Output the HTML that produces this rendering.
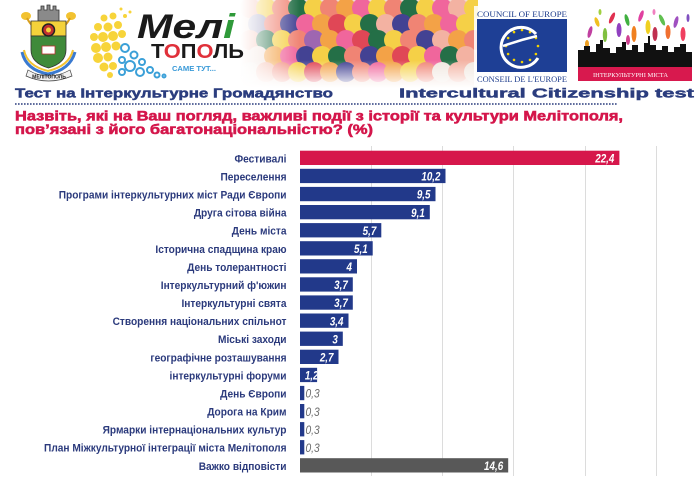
<!DOCTYPE html>
<html>
<head>
<meta charset="utf-8">
<style>
html,body{margin:0;padding:0;background:#fff;}
body{width:700px;height:485px;overflow:hidden;}
svg{display:block;}
.lbl{font-family:"Liberation Sans",sans-serif;font-weight:bold;font-size:11.4px;fill:#2b3a7c;}
.val{font-family:"Liberation Sans",sans-serif;font-weight:bold;font-style:italic;font-size:12px;fill:#fff;}
.val2{font-family:"Liberation Sans",sans-serif;font-style:italic;font-size:12px;fill:#6a6a6a;}
</style>
</head>
<body>
<svg width="700" height="485" viewBox="0 0 700 485" xmlns="http://www.w3.org/2000/svg">
<defs>
  <linearGradient id="fadeL" x1="0" x2="1" y1="0" y2="0">
    <stop offset="0" stop-color="#fff" stop-opacity="1"/>
    <stop offset="1" stop-color="#fff" stop-opacity="0"/>
  </linearGradient>
  <linearGradient id="fadeB" x1="0" x2="0" y1="0" y2="1">
    <stop offset="0" stop-color="#fff" stop-opacity="0"/>
    <stop offset="1" stop-color="#fff" stop-opacity="1"/>
  </linearGradient>
  <clipPath id="flowClip"><rect x="240" y="0" width="238" height="88"/></clipPath>
  <clipPath id="c12"><rect x="300" y="367" width="17.1" height="15"/></clipPath>
</defs>
<rect width="700" height="485" fill="#fff"/>

<!-- Flowers image -->
<g clip-path="url(#flowClip)">
  <rect x="240" y="0" width="238" height="88" fill="#f1d9cf"/>
  <g opacity="0.95">
    <circle cx="250" cy="8" r="10" fill="#f4b0a0"/><circle cx="266" cy="8" r="10" fill="#f6d040"/><circle cx="282" cy="8" r="10" fill="#f08070"/><circle cx="298" cy="8" r="10" fill="#1a6a40"/><circle cx="314" cy="8" r="10" fill="#f6d040"/><circle cx="330" cy="8" r="10" fill="#f08070"/><circle cx="346" cy="8" r="10" fill="#f4a040"/><circle cx="362" cy="8" r="10" fill="#f0609a"/><circle cx="378" cy="8" r="10" fill="#f6d040"/><circle cx="394" cy="8" r="10" fill="#f08070"/><circle cx="410" cy="8" r="10" fill="#1a6a40"/><circle cx="426" cy="8" r="10" fill="#f6d040"/><circle cx="442" cy="8" r="10" fill="#f0609a"/><circle cx="458" cy="8" r="10" fill="#f4b0a0"/><circle cx="474" cy="8" r="10" fill="#f6d040"/>
    <circle cx="258" cy="24" r="10" fill="#9a9ac0"/><circle cx="274" cy="24" r="10" fill="#f08070"/><circle cx="290" cy="24" r="10" fill="#3a3a90"/><circle cx="306" cy="24" r="10" fill="#f0609a"/><circle cx="322" cy="24" r="10" fill="#f4a040"/><circle cx="338" cy="24" r="10" fill="#e04050"/><circle cx="354" cy="24" r="10" fill="#f6d040"/><circle cx="370" cy="24" r="10" fill="#1a6a40"/><circle cx="386" cy="24" r="10" fill="#f4b0a0"/><circle cx="402" cy="24" r="10" fill="#3a3a90"/><circle cx="418" cy="24" r="10" fill="#f08070"/><circle cx="434" cy="24" r="10" fill="#f4a040"/><circle cx="450" cy="24" r="10" fill="#f0609a"/><circle cx="466" cy="24" r="10" fill="#f6d040"/>
    <circle cx="250" cy="40" r="10" fill="#f4b0a0"/><circle cx="266" cy="40" r="10" fill="#1a6a40"/><circle cx="282" cy="40" r="10" fill="#f6d040"/><circle cx="298" cy="40" r="10" fill="#f08070"/><circle cx="314" cy="40" r="10" fill="#9a60b0"/><circle cx="330" cy="40" r="10" fill="#f4a040"/><circle cx="346" cy="40" r="10" fill="#f0609a"/><circle cx="362" cy="40" r="10" fill="#e04050"/><circle cx="378" cy="40" r="10" fill="#1a6a40"/><circle cx="394" cy="40" r="10" fill="#f6d040"/><circle cx="410" cy="40" r="10" fill="#f08070"/><circle cx="426" cy="40" r="10" fill="#3a3a90"/><circle cx="442" cy="40" r="10" fill="#f4b0a0"/><circle cx="458" cy="40" r="10" fill="#f4a040"/><circle cx="474" cy="40" r="10" fill="#f08070"/>
    <circle cx="258" cy="56" r="10" fill="#f0e0d8"/><circle cx="274" cy="56" r="10" fill="#f4a040"/><circle cx="290" cy="56" r="10" fill="#f0609a"/><circle cx="306" cy="56" r="10" fill="#3a3a90"/><circle cx="322" cy="56" r="10" fill="#f6d040"/><circle cx="338" cy="56" r="10" fill="#1a6a40"/><circle cx="354" cy="56" r="10" fill="#f08070"/><circle cx="370" cy="56" r="10" fill="#3a3a90"/><circle cx="386" cy="56" r="10" fill="#f4a040"/><circle cx="402" cy="56" r="10" fill="#e04050"/><circle cx="418" cy="56" r="10" fill="#f6d040"/><circle cx="434" cy="56" r="10" fill="#f0609a"/><circle cx="450" cy="56" r="10" fill="#1a6a40"/><circle cx="466" cy="56" r="10" fill="#f4b0a0"/>
    <circle cx="250" cy="72" r="10" fill="#f0e8e0"/><circle cx="266" cy="72" r="10" fill="#f4b0a0"/><circle cx="282" cy="72" r="10" fill="#f08070"/><circle cx="298" cy="72" r="10" fill="#f6d040"/><circle cx="314" cy="72" r="10" fill="#e04050"/><circle cx="330" cy="72" r="10" fill="#f4a040"/><circle cx="346" cy="72" r="10" fill="#3a3a90"/><circle cx="362" cy="72" r="10" fill="#f08070"/><circle cx="378" cy="72" r="10" fill="#f0609a"/><circle cx="394" cy="72" r="10" fill="#f4a040"/><circle cx="410" cy="72" r="10" fill="#f6d040"/><circle cx="426" cy="72" r="10" fill="#f08070"/><circle cx="442" cy="72" r="10" fill="#f0e8e0"/><circle cx="458" cy="72" r="10" fill="#f4b0a0"/><circle cx="474" cy="72" r="10" fill="#f0e8e0"/>
  </g>
  <rect x="240" y="0" width="60" height="88" fill="url(#fadeL)"/>
  <rect x="240" y="60" width="238" height="28" fill="url(#fadeB)"/>
</g>

<!-- Coat of arms -->
<g>
  <ellipse cx="26" cy="16" rx="5" ry="4" fill="#f2c230"/>
  <ellipse cx="71" cy="16" rx="5" ry="4" fill="#f2c230"/>
  <path d="M27,18 Q30,24 33,26" stroke="#d8a020" stroke-width="2" fill="none"/>
  <path d="M70,18 Q67,24 64,26" stroke="#d8a020" stroke-width="2" fill="none"/>
  <path d="M38,21 V10 H41 V6 H44 V10 H47 V5 H50 V10 H53 V6 H56 V10 H59 V21 Z" fill="#8a8a8a" stroke="#333" stroke-width="0.8"/>
  <path d="M31,21 H66 V36 H31 Z" fill="#f4d23a" stroke="#333" stroke-width="0.8"/>
  <path d="M31,36 H66 V50 Q66,63 48.5,68 Q31,63 31,50 Z" fill="#3f8a3a" stroke="#333" stroke-width="0.8"/>
  <circle cx="48.5" cy="30" r="6" fill="#c03030" stroke="#222" stroke-width="1.5"/>
  <circle cx="48.5" cy="30" r="2.5" fill="#f4d23a"/>
  <rect x="42" y="46" width="13" height="8" fill="#fff" stroke="#c03030" stroke-width="0.8"/>
  <path d="M22,52 Q26,70 48,74 Q70,70 75,52" stroke="#3a7ad0" stroke-width="3" fill="none"/>
  <path d="M24,50 Q27,66 48,71 Q69,66 73,50" stroke="#f2c230" stroke-width="2" fill="none"/>
  <path d="M28,70 Q48,82 70,70 L72,76 Q48,86 26,76 Z" fill="#f2f2f2" stroke="#444" stroke-width="0.7"/>
  <text x="49" y="78.5" font-family="Liberation Sans,sans-serif" font-weight="bold" font-size="5" fill="#222" text-anchor="middle">МЕЛІТОПОЛЬ</text>
</g>

<!-- Meli logo -->
<g>
  <g fill="#f7d43a">
    <circle cx="104" cy="18" r="3.5"/><circle cx="113" cy="16" r="3.5"/><circle cx="98" cy="27" r="4"/><circle cx="108" cy="27" r="4.5"/><circle cx="118" cy="25" r="4"/>
    <circle cx="94" cy="37" r="4"/><circle cx="103" cy="37" r="5"/><circle cx="113" cy="36" r="5"/><circle cx="122" cy="34" r="4"/>
    <circle cx="96" cy="48" r="5"/><circle cx="106" cy="47" r="5"/><circle cx="116" cy="46" r="4.5"/>
    <circle cx="98" cy="58" r="5"/><circle cx="108" cy="57" r="4.5"/><circle cx="104" cy="67" r="4.5"/><circle cx="113" cy="66" r="4"/><circle cx="110" cy="75" r="3"/>
    <circle cx="125" cy="16" r="2"/><circle cx="130" cy="12" r="1.5"/><circle cx="121" cy="9" r="1.5"/>
  </g>
  <g fill="none" stroke="#3ba0d8" stroke-width="2">
    <circle cx="125" cy="48" r="4"/><circle cx="134" cy="55" r="3.5"/><circle cx="122" cy="60" r="3"/>
    <circle cx="130" cy="66" r="5"/><circle cx="142" cy="62" r="3"/><circle cx="140" cy="72" r="4"/>
    <circle cx="150" cy="70" r="3"/><circle cx="157" cy="75" r="2.5"/><circle cx="122" cy="72" r="3"/><circle cx="164" cy="76" r="1.5"/>
  </g>
  <text x="137" y="38" font-family="Liberation Sans,sans-serif" font-weight="bold" font-style="italic" font-size="34" fill="#1a1a1a" textLength="98" lengthAdjust="spacingAndGlyphs">Мел<tspan fill="#2f9a3a">і</tspan></text>
  <text x="151" y="58" font-family="Liberation Sans,sans-serif" font-weight="bold" font-size="20" fill="#1a1a1a" textLength="93" lengthAdjust="spacingAndGlyphs">Т<tspan fill="#e0303a">О</tspan>П<tspan fill="#e0303a">О</tspan>ЛЬ</text>
  <text x="172" y="71" font-family="Liberation Sans,sans-serif" font-weight="bold" font-size="7" fill="#3a9ad8" textLength="44" lengthAdjust="spacingAndGlyphs">САМЕ ТУТ...</text>
</g>

<!-- Council of Europe -->
<g>
  <rect x="474" y="6" width="97" height="80" fill="#fff" opacity="0.85"/>
  <text x="477" y="17" font-family="Liberation Serif,serif" font-size="8.5" fill="#1d3c8c" textLength="90" lengthAdjust="spacingAndGlyphs">COUNCIL OF EUROPE</text>
  <rect x="477" y="19" width="90" height="53" fill="#1e3f95"/>
  <g fill="#f3d200">
    <circle cx="522" cy="30" r="1.3"/><circle cx="530" cy="32.1" r="1.3"/><circle cx="535.9" cy="38" r="1.3"/><circle cx="538" cy="46" r="1.3"/><circle cx="535.9" cy="54" r="1.3"/><circle cx="530" cy="59.9" r="1.3"/><circle cx="522" cy="62" r="1.3"/><circle cx="514" cy="59.9" r="1.3"/><circle cx="508.1" cy="54" r="1.3"/><circle cx="506" cy="46" r="1.3"/><circle cx="508.1" cy="38" r="1.3"/><circle cx="514" cy="32.1" r="1.3"/>
  </g>
  <path d="M536,34 A20,20 0 1 0 538,58" stroke="#fff" stroke-width="3" fill="none"/>
  <path d="M503,46 Q520,40 537,36" stroke="#fff" stroke-width="2.5" fill="none"/>
  <text x="477" y="82" font-family="Liberation Serif,serif" font-size="8.5" fill="#1d3c8c" textLength="90" lengthAdjust="spacingAndGlyphs">CONSEIL DE L'EUROPE</text>
</g>

<!-- Intercultural cities -->
<g>
  <g>
    <ellipse cx="590" cy="32" rx="2" ry="6" fill="#c040a0" transform="rotate(15 590 32)"/>
    <ellipse cx="597" cy="22" rx="2" ry="5" fill="#f0c020" transform="rotate(-20 597 22)"/>
    <ellipse cx="605" cy="35" rx="2.2" ry="7" fill="#80c040"/>
    <ellipse cx="612" cy="18" rx="2" ry="6" fill="#e03050" transform="rotate(25 612 18)"/>
    <ellipse cx="619" cy="30" rx="2.5" ry="7" fill="#9040c0"/>
    <ellipse cx="627" cy="20" rx="2" ry="6" fill="#40b040" transform="rotate(-15 627 20)"/>
    <ellipse cx="634" cy="34" rx="2.5" ry="8" fill="#f08020"/>
    <ellipse cx="641" cy="16" rx="2" ry="6" fill="#e040a0" transform="rotate(20 641 16)"/>
    <ellipse cx="648" cy="27" rx="2.5" ry="7" fill="#f0d020"/>
    <ellipse cx="655" cy="34" rx="2.5" ry="7" fill="#c03050"/>
    <ellipse cx="662" cy="20" rx="2" ry="6" fill="#60c050" transform="rotate(-25 662 20)"/>
    <ellipse cx="668" cy="32" rx="2.5" ry="7" fill="#f07030"/>
    <ellipse cx="676" cy="22" rx="2" ry="6" fill="#a050c0" transform="rotate(15 676 22)"/>
    <ellipse cx="683" cy="34" rx="2.5" ry="7" fill="#f04060"/>
    <ellipse cx="587" cy="44" rx="2" ry="4" fill="#f0a020"/>
    <ellipse cx="628" cy="40" rx="2" ry="5" fill="#d04090"/>
    <ellipse cx="600" cy="12" rx="1.5" ry="3" fill="#a0d040"/>
    <ellipse cx="654" cy="12" rx="1.5" ry="3" fill="#f080c0"/>
    <ellipse cx="688" cy="18" rx="1.5" ry="4" fill="#8050c0"/>
  </g>
  <polygon fill="#111" points="578,68 578,50 584,50 584,46 590,46 590,52 596,52 596,44 600,44 600,40 603,40 603,48 610,48 610,53 616,53 616,47 622,47 622,42 626,42 626,50 632,50 632,45 638,45 638,52 644,52 644,43 648,43 648,36 650,36 650,45 656,45 656,50 662,50 662,46 668,46 668,52 674,52 674,47 680,47 680,44 686,44 686,52 692,52 692,68"/>
  <rect x="578" y="67" width="114" height="14" fill="#d8194e"/>
  <text x="593" y="77" font-family="Liberation Serif,serif" font-size="6.5" fill="#fff" textLength="75" lengthAdjust="spacingAndGlyphs">ІНТЕРКУЛЬТУРНІ МІСТА</text>
</g>

<!-- Subtitle -->
<text x="15" y="97.5" font-family="Liberation Sans,sans-serif" font-weight="bold" font-size="12.5" fill="#2b3d7e" stroke="#2b3d7e" stroke-width="0.45" textLength="318" lengthAdjust="spacingAndGlyphs">Тест на Інтеркультурне Громадянство</text>
<text x="399" y="97.5" font-family="Liberation Sans,sans-serif" font-weight="bold" font-size="12.5" fill="#2b3d7e" stroke="#2b3d7e" stroke-width="0.45" textLength="295" lengthAdjust="spacingAndGlyphs">Intercultural Citizenship test</text>
<line x1="15" y1="104" x2="618" y2="104" stroke="#2b3d7e" stroke-width="1.6" stroke-dasharray="1.6 1.4"/>

<!-- Title -->
<text x="15" y="120.5" font-family="Liberation Sans,sans-serif" font-weight="bold" font-size="13.5" fill="#d4164b" stroke="#d4164b" stroke-width="0.55" textLength="608" lengthAdjust="spacingAndGlyphs">Назвіть, які на Ваш погляд, важливі події з історії та культури Мелітополя,</text>
<text x="15" y="134" font-family="Liberation Sans,sans-serif" font-weight="bold" font-size="13.5" fill="#d4164b" stroke="#d4164b" stroke-width="0.55" textLength="358" lengthAdjust="spacingAndGlyphs">пов’язані з його багатонаціональністю? (%)</text>

<!-- Gridlines -->
<g stroke="#dcdcdc" stroke-width="1">
  <line x1="371.5" y1="146" x2="371.5" y2="476"/>
  <line x1="442.5" y1="146" x2="442.5" y2="476"/>
  <line x1="513.5" y1="146" x2="513.5" y2="476"/>
  <line x1="585.5" y1="146" x2="585.5" y2="476"/>
  <line x1="656.5" y1="146" x2="656.5" y2="476"/>
</g>

<!-- Bars -->
<rect x="300" y="150.7" width="319.4" height="14.3" fill="#d6174b"/>
<g fill="#22398a">
  <rect x="300" y="168.8" width="145.5" height="14.3"/>
  <rect x="300" y="186.9" width="135.5" height="14.3"/>
  <rect x="300" y="205.0" width="129.8" height="14.3"/>
  <rect x="300" y="223.1" width="81.3" height="14.3"/>
  <rect x="300" y="241.2" width="72.7" height="14.3"/>
  <rect x="300" y="259.2" width="57.0" height="14.3"/>
  <rect x="300" y="277.3" width="52.8" height="14.3"/>
  <rect x="300" y="295.4" width="52.8" height="14.3"/>
  <rect x="300" y="313.5" width="48.5" height="14.3"/>
  <rect x="300" y="331.6" width="42.8" height="14.3"/>
  <rect x="300" y="349.7" width="38.5" height="14.3"/>
  <rect x="300" y="367.8" width="17.1" height="14.3"/>
  <rect x="300" y="385.9" width="4.3" height="14.3"/>
  <rect x="300" y="404.0" width="4.3" height="14.3"/>
  <rect x="300" y="422.1" width="4.3" height="14.3"/>
  <rect x="300" y="440.1" width="4.3" height="14.3"/>
</g>
<rect x="300" y="458.2" width="208.2" height="14.3" fill="#585858"/>

<!-- Row labels -->
<g class="lbl" text-anchor="end">
  <text transform="translate(286.5,162.3) scale(0.89,1)">Фестивалі</text>
  <text transform="translate(286.5,180.4) scale(0.89,1)">Переселення</text>
  <text transform="translate(286.5,198.5) scale(0.89,1)">Програми інтеркультурних міст Ради Європи</text>
  <text transform="translate(286.5,216.6) scale(0.89,1)">Друга сітова війна</text>
  <text transform="translate(286.5,234.7) scale(0.89,1)">День міста</text>
  <text transform="translate(286.5,252.8) scale(0.89,1)">Історична спадщина краю</text>
  <text transform="translate(286.5,270.8) scale(0.89,1)">День толерантності</text>
  <text transform="translate(286.5,288.9) scale(0.89,1)">Інтеркультурний ф'южин</text>
  <text transform="translate(286.5,307.0) scale(0.89,1)">Інтеркультурні свята</text>
  <text transform="translate(286.5,325.1) scale(0.89,1)">Створення національних спільнот</text>
  <text transform="translate(286.5,343.2) scale(0.89,1)">Міські заходи</text>
  <text transform="translate(286.5,361.3) scale(0.89,1)">географічне розташування</text>
  <text transform="translate(286.5,379.4) scale(0.89,1)">інтеркультурні форуми</text>
  <text transform="translate(286.5,397.5) scale(0.89,1)">День Європи</text>
  <text transform="translate(286.5,415.6) scale(0.89,1)">Дорога на Крим</text>
  <text transform="translate(286.5,433.7) scale(0.89,1)">Ярмарки інтернаціональних культур</text>
  <text transform="translate(286.5,451.7) scale(0.89,1)">План Міжкультурної інтеграції міста Мелітополя</text>
  <text transform="translate(286.5,469.8) scale(0.89,1)">Важко відповісти</text>
</g>

<!-- Value labels -->
<g class="val" text-anchor="end">
  <text transform="translate(614.4,162.5) scale(0.82,1)">22,4</text>
  <text transform="translate(440.5,180.6) scale(0.82,1)">10,2</text>
  <text transform="translate(430.5,198.7) scale(0.82,1)">9,5</text>
  <text transform="translate(424.8,216.8) scale(0.82,1)">9,1</text>
  <text transform="translate(376.3,234.9) scale(0.82,1)">5,7</text>
  <text transform="translate(367.7,253.0) scale(0.82,1)">5,1</text>
  <text transform="translate(352.0,271.0) scale(0.82,1)">4</text>
  <text transform="translate(347.8,289.1) scale(0.82,1)">3,7</text>
  <text transform="translate(347.8,307.2) scale(0.82,1)">3,7</text>
  <text transform="translate(343.5,325.3) scale(0.82,1)">3,4</text>
  <text transform="translate(337.8,343.4) scale(0.82,1)">3</text>
  <text transform="translate(333.5,361.5) scale(0.82,1)">2,7</text>
  <g clip-path="url(#c12)"><text transform="translate(318.5,379.6) scale(0.82,1)">1,2</text></g>
  <text transform="translate(503.2,470.0) scale(0.82,1)">14,6</text>
</g>
<g class="val2">
  <text transform="translate(305.5,397.7) scale(0.85,1)">0,3</text>
  <text transform="translate(305.5,415.8) scale(0.85,1)">0,3</text>
  <text transform="translate(305.5,433.9) scale(0.85,1)">0,3</text>
  <text transform="translate(305.5,451.9) scale(0.85,1)">0,3</text>
</g>
</svg>
</body>
</html>
